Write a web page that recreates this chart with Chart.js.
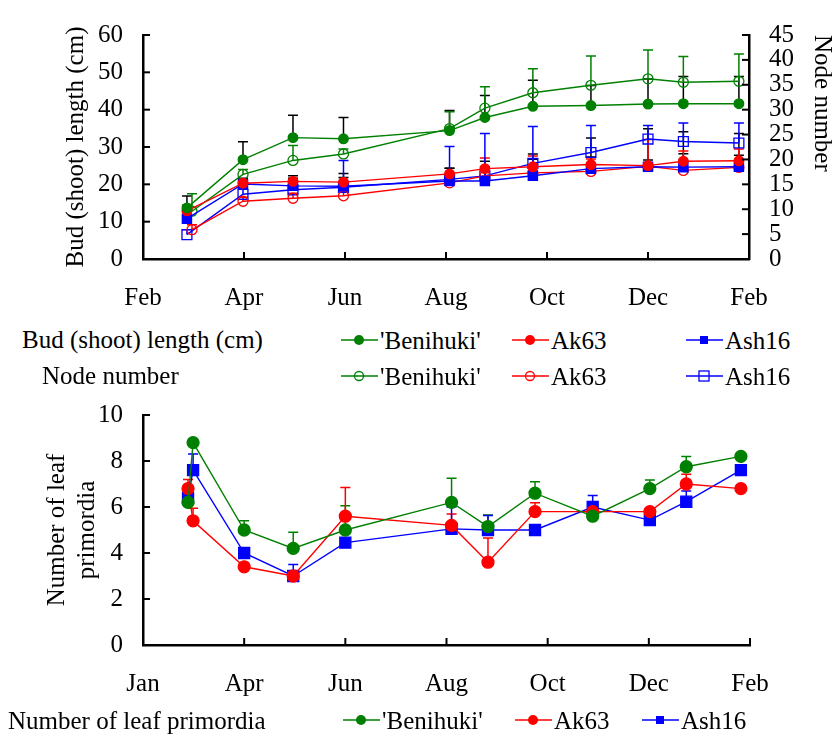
<!DOCTYPE html>
<html>
<head>
<meta charset="utf-8">
<script src="https://cdn.jsdelivr.net/npm/chart.js@4/dist/chart.umd.min.js"></script>
<style>
    body { margin: 0; background: #fff; }
    #page { position: relative; width: 837px; height: 738px; font-family: "Liberation Serif", serif; color: #000; }
    .box { position: absolute; left: 0; width: 837px; }
    .txt { position: absolute; font-size: 25px; line-height: 25px; white-space: nowrap; }
    .key { position: absolute; }
</style>
</head>
<body>
<div id="page">
    <div class="box" style="top:0;height:320px"><canvas id="topChart" width="837" height="320"></canvas></div>
    <div class="box" style="top:380px;height:330px"><canvas id="bottomChart" width="837" height="330"></canvas></div>

    <div class="txt" style="left:22px;top:327px">Bud (shoot) length (cm)</div>
    <div class="txt" style="left:42px;top:363px">Node number</div>
    <div class="txt" style="left:8px;top:708px">Number of leaf primordia</div>
    <div id="legends"></div>
</div>
<script>
(function () {
    // top panel: months from Feb (0) to next Feb (12)
    const topMonthLabels = ['Feb', 'Apr', 'Jun', 'Aug', 'Oct', 'Dec', 'Feb'];
    const bottomMonthLabels = ['Jan', 'Apr', 'Jun', 'Aug', 'Oct', 'Dec', 'Feb'];

    const budDates = [0.87, 1.98, 2.97, 3.97, 6.07, 6.77, 7.72, 8.87, 10.0, 10.7, 11.8];
    const nodeDates = [0.97, 1.98, 2.97, 3.97, 6.07, 6.77, 7.72, 8.87, 10.0, 10.7, 11.8];
    const ash16NodeDates = [0.87, 1.98, 2.97, 3.97, 6.07, 6.77, 7.72, 8.87, 10.0, 10.7, 11.8];

    const benihukiBud = [13.7, 26.6, 32.5, 32.2, 34.4, 37.9, 40.9, 41.1, 41.5, 41.6, 41.6];
    const benihukiBudErr = [3.2, 4.8, 6.0, 5.7, 5.4, 5.9, 7.0, 5.4, 6.7, 7.3, 7.3];
    const ak63Bud = [12.9, 20.3, 20.8, 20.6, 22.8, 24.2, 24.7, 25.3, 25.0, 26.2, 26.3];
    const ak63BudErr = [1.5, 1.0, 1.5, 1.2, 1.5, 2.0, 2.0, 2.0, 1.5, 2.0, 1.5];
    const ash16Bud = [10.8, 20.1, 19.6, 19.5, 20.9, 20.9, 22.3, 24.2, 24.7, 24.6, 24.7];
    const ash16BudErr = [2.0, 1.5, 2.0, 3.4, 3.4, 3.8, 5.8, 8.2, 10.2, 9.5, 8.9];

    const benihukiNode = [9.6, 17.0, 19.8, 21.1, 26.2, 30.3, 33.4, 34.9, 36.2, 35.5, 35.7];
    const benihukiNodeErr = [3.5, 1.0, 3.0, 1.0, 3.4, 4.3, 4.8, 5.9, 5.8, 5.2, 5.5];
    const ak63Node = [5.9, 11.6, 12.2, 12.7, 15.3, 16.7, 17.3, 17.6, 18.6, 17.8, 18.4];
    const ak63NodeErr = [1.0, 0.8, 1.0, 1.0, 1.5, 3.6, 3.4, 2.5, 5.4, 3.9, 3.7];
    const ash16Node = [4.9, 13.0, 13.9, 14.4, 16.0, 16.7, 19.2, 21.4, 24.1, 23.6, 23.3];
    const ash16NodeErr = [1.0, 1.0, 1.0, 5.4, 6.6, 8.5, 7.4, 5.4, 2.7, 3.7, 4.0];

    // bottom panel
    const leafDates = [0.89, 0.99, 2.0, 2.97, 4.0, 6.1, 6.82, 7.75, 8.89, 10.02, 10.74, 11.82];
    const benihukiLeaf = [6.2, 8.8, 5.0, 4.2, 5.0, 6.2, 5.15, 6.6, 5.6, 6.8, 7.75, 8.2];
    const benihukiLeafErr = [0, 0, 0.4, 0.7, 1.05, 1.05, 0.5, 0.5, 0, 0.37, 0.45, 0];
    const ak63Leaf = [6.8, 5.4, 3.4, 3.0, 5.6, 5.2, 3.6, 5.8, 5.8, 5.8, 7.0, 6.8];
    const ak63LeafErr = [0.4, 0.55, 0, 0, 1.25, 0.5, 1.05, 0.38, 0, 0, 0.42, 0];
    const ash16Leaf = [6.4, 7.6, 4.0, 3.0, 4.45, 5.05, 5.0, 5.0, 6.0, 5.43, 6.23, 7.6];
    const ash16LeafErr = [0, 0.7, 0, 0.5, 0, 0.95, 0.63, 0, 0.5, 0, 0.47, 0];

    const GREEN = '#008000';
    const RED = '#ff0000';
    const BLUE = '#0000ff';
    const FONT = 'Liberation Serif';

    function pts(xs, ys) {
        return ys.map((y, i) => ({ x: xs[i], y: y }));
    }

    function series(label, xs, ys, errs, color, opts) {
        return Object.assign({
            label: label,
            data: pts(xs, ys),
            errors: errs,
            errorColor: color,
            borderColor: color,
            borderWidth: 1.4,
            pointBorderColor: color,
            pointBackgroundColor: color,
            pointBorderWidth: 1.3,
            pointStyle: 'circle',
            pointRadius: 5,
            tension: 0,
        }, opts || {});
    }

    const errorBars = {
        id: 'errorBars',
        beforeDatasetsDraw(chart) {
            const ctx = chart.ctx;
            chart.data.datasets.forEach((ds, i) => {
                if (!ds.errors) return;
                const meta = chart.getDatasetMeta(i);
                const yScale = chart.scales[ds.yAxisID || 'y'];
                ctx.save();
                ctx.strokeStyle = ds.errorColor;
                ctx.lineWidth = 1.5;
                meta.data.forEach((pt, j) => {
                    const e = ds.errors[j];
                    if (!e) return;
                    const top = yScale.getPixelForValue(ds.data[j].y + e);
                    ctx.beginPath();
                    ctx.moveTo(pt.x, pt.y);
                    ctx.lineTo(pt.x, top);
                    ctx.moveTo(pt.x - 5, top);
                    ctx.lineTo(pt.x + 5, top);
                    ctx.stroke();
                });
                ctx.restore();
            });
        }
    };

    // tick marks point into the plot
    const innerTicks = {
        id: 'innerTicks',
        afterDraw(chart) {
            const ctx = chart.ctx;
            ctx.save();
            ctx.strokeStyle = '#000';
            ctx.lineWidth = 2;
            Object.values(chart.scales).forEach(s => {
                s.ticks.forEach(t => {
                    const p = s.getPixelForValue(t.value);
                    ctx.beginPath();
                    if (s.position === 'left') { ctx.moveTo(s.right, p); ctx.lineTo(s.right + 7, p); }
                    else if (s.position === 'right') { ctx.moveTo(s.left, p); ctx.lineTo(s.left - 7, p); }
                    else { ctx.moveTo(p, s.top); ctx.lineTo(p, s.top - 7); }
                    ctx.stroke();
                });
            });
            ctx.restore();
        }
    };

    const tickFont = { family: FONT, size: 25 };
    const titleFont = { family: FONT, size: 25 };
    const axisBorder = { display: true, color: '#000', width: 2.5 };

    function xAxis(labels, height) {
        return {
            type: 'linear', min: 0, max: 12,
            grid: { display: false, drawTicks: false },
            border: axisBorder,
            ticks: {
                stepSize: 2, autoSkip: false, maxRotation: 0, padding: 24,
                color: '#000', font: tickFont,
                callback: v => labels[v / 2],
            },
            afterFit: s => { s.height = height; },
        };
    }

    new Chart(document.getElementById('topChart'), {
        type: 'line',
        data: {
            datasets: [
                series("'Benihuki'", budDates, benihukiBud, benihukiBudErr, '#000', { borderColor: GREEN, pointBorderColor: GREEN, pointBackgroundColor: GREEN, pointRadius: 4.8 }),
                series('Ak63', budDates, ak63Bud, ak63BudErr, '#000', { borderColor: RED, pointBorderColor: RED, pointBackgroundColor: RED, pointRadius: 4.8 }),
                series('Ash16', budDates, ash16Bud, ash16BudErr, '#000', { borderColor: BLUE, pointBorderColor: BLUE, pointBackgroundColor: BLUE, pointStyle: 'rect', pointRadius: 6.5 }),
                series("'Benihuki'", nodeDates, benihukiNode, benihukiNodeErr, GREEN, { yAxisID: 'y2', pointBackgroundColor: 'rgba(0,0,0,0)' }),
                series('Ak63', nodeDates, ak63Node, ak63NodeErr, RED, { yAxisID: 'y2', pointBackgroundColor: 'rgba(0,0,0,0)' }),
                series('Ash16', ash16NodeDates, ash16Node, ash16NodeErr, BLUE, { yAxisID: 'y2', pointBackgroundColor: 'rgba(0,0,0,0)', pointStyle: 'rect', pointRadius: 7 }),
            ],
        },
        options: {
            responsive: false,
            animation: false,
            devicePixelRatio: 1,
            layout: { padding: { top: 23, left: 0, right: 0, bottom: 0 } },
            plugins: { legend: { display: false }, tooltip: { enabled: false } },
            scales: {
                x: xAxis(topMonthLabels, 61),
                y: {
                    position: 'left', min: 0, max: 60,
                    grid: { display: false, drawTicks: false },
                    border: axisBorder,
                    ticks: { stepSize: 10, autoSkip: false, padding: 20, color: '#000', font: tickFont },
                    title: { display: true, text: 'Bud (shoot) length (cm)', color: '#000', font: titleFont, padding: { top: 61 } },
                    afterFit: s => { s.width = 143; },
                },
                y2: {
                    position: 'right', min: 0, max: 45,
                    grid: { display: false, drawTicks: false },
                    border: axisBorder,
                    ticks: { stepSize: 5, autoSkip: false, padding: 20, color: '#000', font: tickFont },
                    title: { display: true, text: 'Node number', color: '#000', align: 'end', font: titleFont, padding: { top: 0 } },
                    afterFit: s => { s.width = 88; },
                },
            },
        },
        plugins: [errorBars, innerTicks],
    });

    new Chart(document.getElementById('bottomChart'), {
        type: 'line',
        data: {
            datasets: [
                series("'Benihuki'", leafDates, benihukiLeaf, benihukiLeafErr, GREEN, { pointRadius: 6 }),
                series('Ak63', leafDates, ak63Leaf, ak63LeafErr, RED, { pointRadius: 6 }),
                series('Ash16', leafDates, ash16Leaf, ash16LeafErr, BLUE, { pointStyle: 'rect', pointRadius: 7.8 }),
            ],
        },
        options: {
            responsive: false,
            animation: false,
            devicePixelRatio: 1,
            layout: { padding: { top: 35, left: 0, right: 87, bottom: 0 } },
            plugins: { legend: { display: false }, tooltip: { enabled: false } },
            scales: {
                x: xAxis(bottomMonthLabels, 65),
                y: {
                    position: 'left', min: 0, max: 10,
                    grid: { display: false, drawTicks: false },
                    border: axisBorder,
                    ticks: { stepSize: 2, autoSkip: false, padding: 20, color: '#000', font: tickFont },
                    title: { display: true, text: ['Number of leaf', 'primordia'], color: '#000', font: titleFont, padding: { top: 42 } },
                    afterFit: s => { s.width = 143; },
                },
            },
        },
        plugins: [errorBars, innerTicks],
    });

    // legend keys: line segment + marker + label
    const keys = [
        { x: 341, y: 340, color: GREEN, marker: 'dot', label: "'Benihuki'" },
        { x: 512, y: 340, color: RED, marker: 'dot', label: 'Ak63' },
        { x: 686, y: 340, color: BLUE, marker: 'sq', label: 'Ash16' },
        { x: 341, y: 376, color: GREEN, marker: 'ring', label: "'Benihuki'" },
        { x: 512, y: 376, color: RED, marker: 'ring', label: 'Ak63' },
        { x: 686, y: 376, color: BLUE, marker: 'box', label: 'Ash16' },
        { x: 343, y: 720, color: GREEN, marker: 'dot', label: "'Benihuki'" },
        { x: 515, y: 720, color: RED, marker: 'dot', label: 'Ak63' },
        { x: 642, y: 720, color: BLUE, marker: 'sq', label: 'Ash16' },
    ];
    const holder = document.getElementById('legends');
    keys.forEach(k => {
        let mark;
        if (k.marker === 'dot') mark = `<circle cx="18" cy="8" r="5" fill="${k.color}"/>`;
        else if (k.marker === 'ring') mark = `<circle cx="18" cy="8" r="4.5" fill="none" stroke="${k.color}" stroke-width="1.3"/>`;
        else if (k.marker === 'sq') mark = `<rect x="14" y="4" width="8" height="8" fill="${k.color}"/>`;
        else mark = `<rect x="13" y="3" width="10" height="10" fill="none" stroke="${k.color}" stroke-width="1.3"/>`;
        const el = document.createElement('div');
        el.className = 'key';
        el.style.left = k.x + 'px';
        el.style.top = (k.y - 12) + 'px';
        el.innerHTML = `<svg width="37" height="16" style="position:absolute;left:0;top:4px"><line x1="0" y1="8" x2="37" y2="8" stroke="${k.color}" stroke-width="1.4"/>${mark}</svg>` +
            `<span class="txt" style="left:39px;top:0">${k.label}</span>`;
        holder.appendChild(el);
    });
})();
</script>
</body>
</html>
